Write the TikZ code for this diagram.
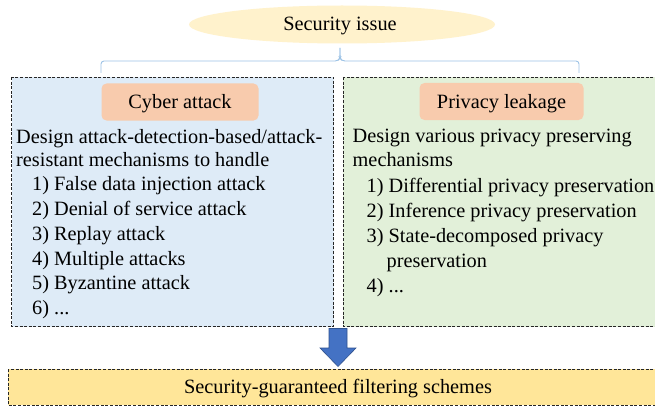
\documentclass[tikz,border=0pt]{standalone}
\usepackage{fontspec}
\setmainfont{Liberation Serif}
\newfontfamily\figfont{Liberation Serif}
\usetikzlibrary{shapes.geometric}

\definecolor{issuefill}{HTML}{FFF2CC}
\definecolor{bracecol}{HTML}{9DC3E6}
\definecolor{cyberfill}{HTML}{DEEBF7}
\definecolor{privfill}{HTML}{E2F0D9}
\definecolor{tagfill}{HTML}{F8CBAD}
\definecolor{resfill}{HTML}{FFE699}
\definecolor{arrowfill}{HTML}{4472C4}
\definecolor{arrowedge}{HTML}{2F528F}

\tikzset{
  panel/.style={draw=black!85, line width=0.9pt, dash pattern=on 3pt off 1.6pt},
  tag/.style={fill=tagfill, rounded corners=5pt, minimum width=157pt, minimum height=37pt, inner sep=0pt},
  txt/.style={anchor=base west, inner sep=0pt, font=\figfont\fontsize{20.3}{24}\selectfont},
  ctxt/.style={anchor=base, inner sep=0pt, font=\figfont\fontsize{20.3}{24}\selectfont},
}

\begin{document}
\begin{tikzpicture}[x=1pt, y=-1pt]
  \clip (0,0) rectangle (655,409);
  \fill[white] (0,0) rectangle (655,409);

  % top ellipse
  \node[ellipse, fill=issuefill, minimum width=306pt, minimum height=38pt, inner sep=0pt] (issue) at (342,24.5) {};
  \node[ctxt] (issuetxt) at (340,30.5) {Security issue};

  % brace joining the two panels
  \coordinate (bl) at (101,73);
  \coordinate (br) at (579,73);
  \coordinate (bt) at (340,48);
  \draw[bracecol, line width=0.9pt, rounded corners=3pt]
    (bl) -- (101,61) -- (338,61) -- (340,58) -- (bt);
  \draw[bracecol, line width=0.9pt, rounded corners=3pt]
    (bt) -- (340,58) -- (342,61) -- (579,61) -- (br);

  % panels
  \filldraw[panel, fill=cyberfill] (11.5,77) rectangle (333.5,326.5);
  \filldraw[panel, fill=privfill] (343,77) rectangle (665,326.5);

  % panel headings
  \node[tag] (cyber) at (180,102) {};
  \node[ctxt] at (180,108.5) {Cyber attack};
  \node[tag, minimum width=164pt] (priv) at (501.5,101.5) {};
  \node[ctxt] at (501.5,108.3) {Privacy leakage};

  % left panel text
  \node[txt] (l1) at (16,143.3) {Design attack-detection-based/attack-};
  \node[txt] (l2) at (16,166) {resistant mechanisms to handle};
  \node[txt] (l3) at (32,190.7) {1) False data injection attack};
  \node[txt] (l4) at (32,215.5) {2) Denial of service attack};
  \node[txt] (l5) at (32,240.2) {3) Replay attack};
  \node[txt] (l6) at (32,265) {4) Multiple attacks};
  \node[txt] (l7) at (32,289.8) {5) Byzantine attack};
  \node[txt] (l8) at (32,314.6) {6) ...};

  % right panel text
  \node[txt] (r1) at (352.5,142.7) {Design various privacy preserving};
  \node[txt] (r2) at (352.5,166) {mechanisms};
  \node[txt] (r3) at (366.5,192.5) {1) Differential privacy preservation};
  \node[txt] (r4) at (366.5,217.5) {2) Inference privacy preservation};
  \node[txt] (r5) at (366.5,242.5) {3) State-decomposed privacy};
  \node[txt] (r6) at (386.5,267) {preservation};
  \node[txt] (r7) at (366.5,292) {4) ...};

  % result box
  \filldraw[panel, fill=resfill] (8,369) rectangle (665,405);
  \node[ctxt] (result) at (338,393) {Security-guaranteed filtering schemes};

  % block arrow down to the result
  \filldraw[fill=arrowfill, draw=arrowedge, line width=0.6pt]
    (329,328.5) -- (347,328.5) -- (347,348) -- (356,348) -- (338,366.5)
    -- (320,348) -- (329,348) -- cycle;
\end{tikzpicture}
\end{document}
